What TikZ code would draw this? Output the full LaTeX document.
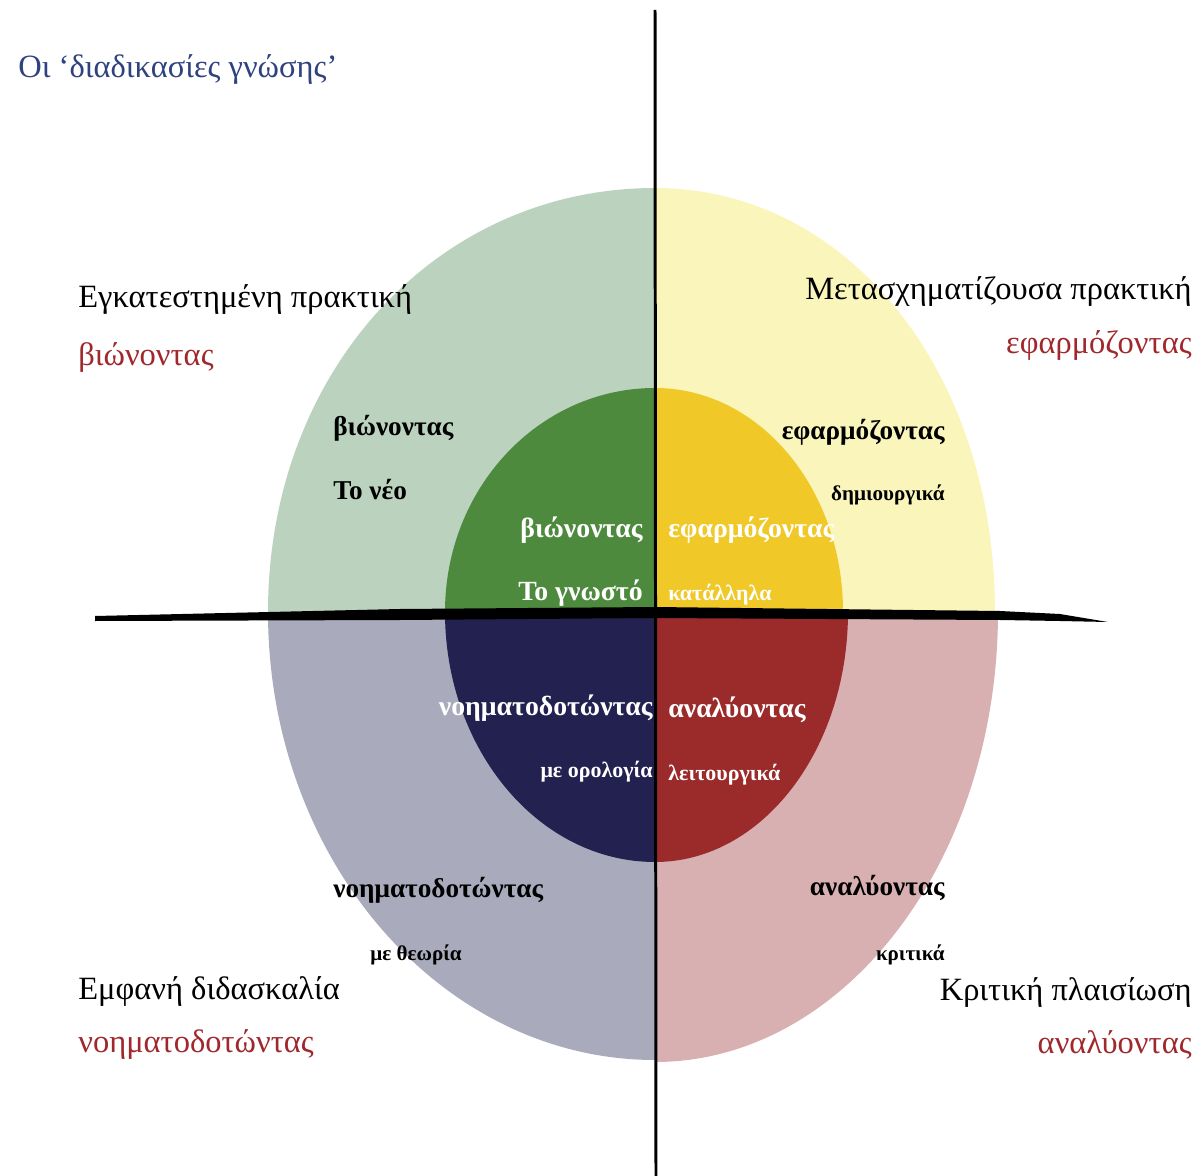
\documentclass[tikz,border=0pt]{standalone}
\usepackage{fontspec}
\setmainfont{Liberation Serif}
\definecolor{lgreen}{RGB}{187,211,190}
\definecolor{dgreen}{RGB}{78,138,62}
\definecolor{lyellow}{RGB}{250,245,186}
\definecolor{gold}{RGB}{240,200,40}
\definecolor{lgray}{RGB}{169,171,189}
\definecolor{navy}{RGB}{34,33,79}
\definecolor{lpink}{RGB}{216,176,177}
\definecolor{dred}{RGB}{155,42,42}
\definecolor{titleblue}{RGB}{46,66,128}
\definecolor{labelred}{RGB}{160,40,44}
\begin{document}
\begin{tikzpicture}[x=0.02cm, y=-0.02cm,
        every node/.style={inner sep=0pt},
        title/.style={font=\fontsize{18.5}{22}\selectfont, text=titleblue},
        quad/.style={font=\fontsize{18.5}{22}\selectfont},
        verb/.style={font=\fontsize{18.5}{22}\selectfont, text=labelred},
        ring/.style={font=\fontsize{15.5}{18}\selectfont\bfseries},
        ringsmall/.style={font=\fontsize{12}{14}\selectfont\bfseries},
        core/.style={font=\fontsize{15.8}{18}\selectfont\bfseries, text=white},
        coresmall/.style={font=\fontsize{12.5}{15}\selectfont\bfseries, text=white}]

    \useasboundingbox (0,0) rectangle (1198,1176);

    % outer quadrants
    \fill[lgreen] (655,612) -- (268,612) .. controls (268,372) and (436,188) .. (655,188) -- cycle;
    \fill[lyellow] (655,612) -- (995,612) .. controls (995,372) and (848,188) .. (655,188) -- cycle;
    \fill[lgray] (655,612) -- (268,612) .. controls (268,859) and (441,1060) .. (655,1060) -- cycle;
    \fill[lpink] (655,612) -- (998,612) .. controls (998,861) and (844,1062) .. (655,1062) -- cycle;

    % inner quadrants
    \fill[dgreen] (655,612) -- (445,612) .. controls (445,488) and (539,388) .. (655,388) -- cycle;
    \fill[gold] (655,612) -- (843,612) .. controls (843,488) and (759,388) .. (655,388) -- cycle;
    \fill[navy] (655,612) -- (445,612) .. controls (445,750) and (539,862) .. (655,862) -- cycle;
    \fill[dred] (655,612) -- (848,612) .. controls (848,750) and (762,862) .. (655,862) -- cycle;

    % axes
    \coordinate (top) at (655,10);
    \coordinate (bottom) at (656,1176);
    \draw[line width=1.7pt] (top) -- (bottom);
    \fill (95,616) -- (400,609) -- (655,607) -- (1000,611) -- (1060,614) -- (1108,622)
        -- (1060,621) -- (1000,620) -- (655,618) -- (400,620) -- (95,621) -- cycle;

    % title
    \node[title, anchor=west] (title) at (18,70) {Οι ‘διαδικασίες γνώσης’};

    % corner labels
    \node[quad, anchor=west] (ul) at (78,300) {Εγκατεστημένη πρακτική};
    \node[verb, anchor=west] (ulv) at (78,358) {βιώνοντας};
    \node[quad, anchor=east] (ur) at (1192,292) {Μετασχηματίζουσα πρακτική};
    \node[verb, anchor=east] (urv) at (1192,346) {εφαρμόζοντας};
    \node[quad, anchor=west] (ll) at (78,992) {Εμφανή διδασκαλία};
    \node[verb, anchor=west] (llv) at (78,1045) {νοηματοδοτώντας};
    \node[quad, anchor=east] (lr) at (1192,992) {Κριτική πλαισίωση};
    \node[verb, anchor=east] (lrv) at (1192,1045) {αναλύοντας};

    % outer ring labels
    \node[ring, anchor=west] (ul1) at (333,428) {βιώνοντας};
    \node[ring, anchor=west] (ul2) at (333,490) {Το νέο};
    \node[ring, anchor=east] (ur1) at (945,432) {εφαρμόζοντας};
    \node[ringsmall, anchor=east] (ur2) at (945,495) {δημιουργικά};
    \node[ring, anchor=west] (ll1) at (333,890) {νοηματοδοτώντας};
    \node[ringsmall, anchor=east] (ll2) at (462,955) {με θεωρία};
    \node[ring, anchor=east] (lr1) at (945,888) {αναλύοντας};
    \node[ringsmall, anchor=east] (lr2) at (945,955) {κριτικά};

    % inner circle labels
    \node[core, anchor=east] (c1) at (643,530) {βιώνοντας};
    \node[core, anchor=east] (c2) at (643,593) {Το γνωστό};
    \node[core, anchor=west] (c3) at (668,530) {εφαρμόζοντας};
    \node[coresmall, anchor=west] (c4) at (668,595) {κατάλληλα};
    \node[core, anchor=east] (c5) at (653,708) {νοηματοδοτώντας};
    \node[coresmall, anchor=east] (c6) at (653,772) {με ορολογία};
    \node[core, anchor=west] (c7) at (668,710) {αναλύοντας};
    \node[coresmall, anchor=west] (c8) at (668,775) {λειτουργικά};

\end{tikzpicture}
\end{document}
